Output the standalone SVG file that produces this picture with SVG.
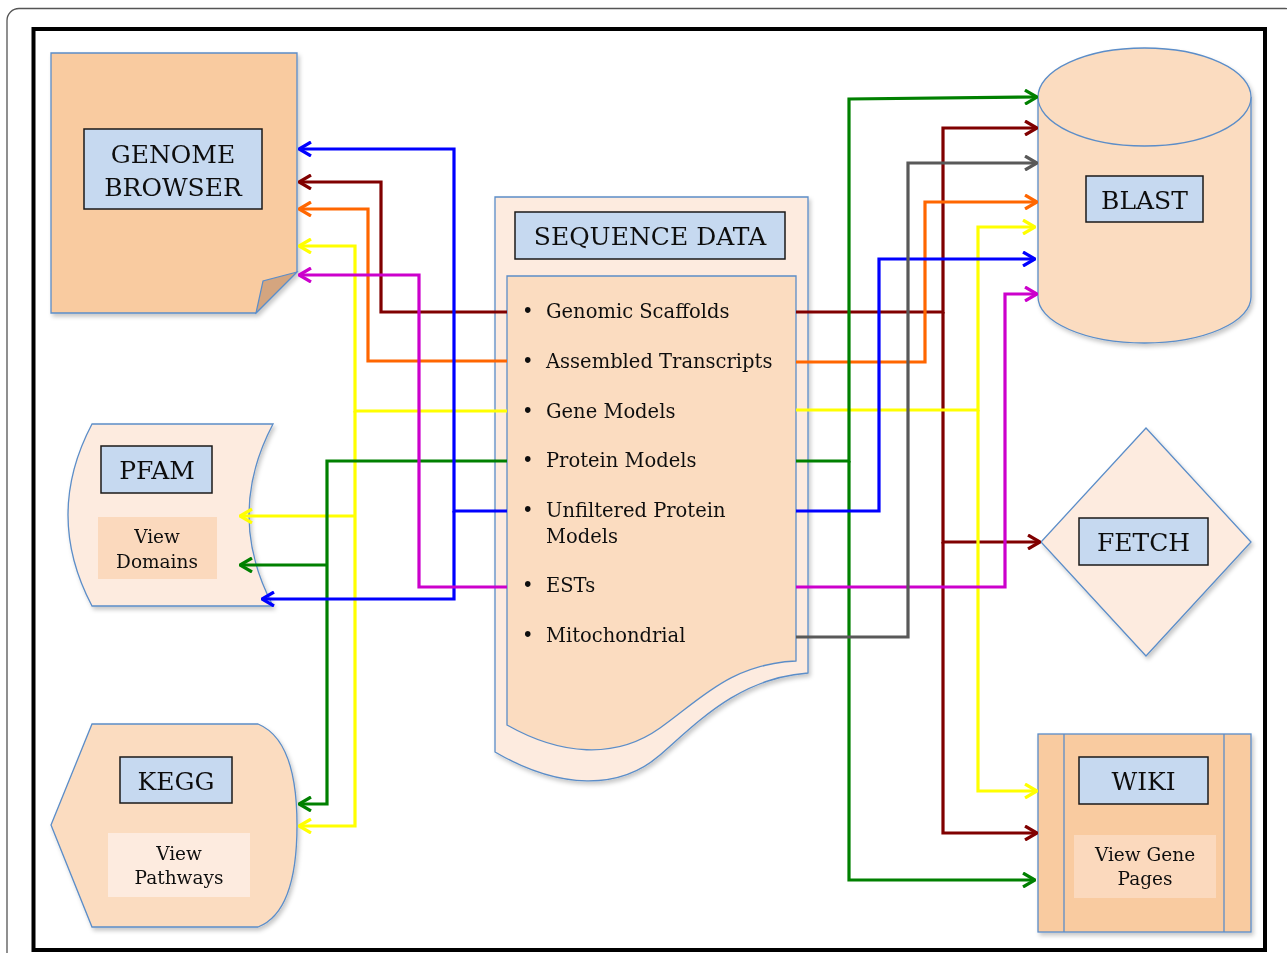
<svg xmlns="http://www.w3.org/2000/svg" width="1287" height="953" viewBox="0 0 1287 953">
<style>
.node{stroke:#5b8dc8;stroke-width:1.3}
.lbl{fill:#c6d9f0;stroke:#1a1a1a;stroke-width:1.5}
.t{font-family:"DejaVu Serif","Liberation Serif",serif;fill:#111;text-anchor:middle}
.big{font-size:25px}
.sm{font-size:18.5px}
.item{font-family:"DejaVu Serif","Liberation Serif",serif;font-size:19.5px;fill:#111}
.c{fill:none;stroke-width:3.2;stroke-linejoin:miter}
</style>
<defs>
<filter id="sh" x="-10%" y="-10%" width="125%" height="125%">
<feDropShadow dx="2" dy="3" stdDeviation="2" flood-color="#000" flood-opacity="0.22"/>
</filter>
<marker id="aR" viewBox="0 0 14 16" refX="13" refY="8" markerWidth="14" markerHeight="16" markerUnits="userSpaceOnUse" orient="auto"><path d="M1,1 L13,8 L1,15" fill="none" stroke="#800000" stroke-width="3.2"/></marker>
<marker id="aO" viewBox="0 0 14 16" refX="13" refY="8" markerWidth="14" markerHeight="16" markerUnits="userSpaceOnUse" orient="auto"><path d="M1,1 L13,8 L1,15" fill="none" stroke="#ff6600" stroke-width="3.2"/></marker>
<marker id="aY" viewBox="0 0 14 16" refX="13" refY="8" markerWidth="14" markerHeight="16" markerUnits="userSpaceOnUse" orient="auto"><path d="M1,1 L13,8 L1,15" fill="none" stroke="#ffff00" stroke-width="3.2"/></marker>
<marker id="aG" viewBox="0 0 14 16" refX="13" refY="8" markerWidth="14" markerHeight="16" markerUnits="userSpaceOnUse" orient="auto"><path d="M1,1 L13,8 L1,15" fill="none" stroke="#008000" stroke-width="3.2"/></marker>
<marker id="aB" viewBox="0 0 14 16" refX="13" refY="8" markerWidth="14" markerHeight="16" markerUnits="userSpaceOnUse" orient="auto"><path d="M1,1 L13,8 L1,15" fill="none" stroke="#0000ff" stroke-width="3.2"/></marker>
<marker id="aM" viewBox="0 0 14 16" refX="13" refY="8" markerWidth="14" markerHeight="16" markerUnits="userSpaceOnUse" orient="auto"><path d="M1,1 L13,8 L1,15" fill="none" stroke="#cc00cc" stroke-width="3.2"/></marker>
<marker id="aK" viewBox="0 0 14 16" refX="13" refY="8" markerWidth="14" markerHeight="16" markerUnits="userSpaceOnUse" orient="auto"><path d="M1,1 L13,8 L1,15" fill="none" stroke="#595959" stroke-width="3.2"/></marker>
</defs>
<rect x="0" y="0" width="1287" height="953" fill="#fff"/>
<rect x="7" y="8.5" width="1290" height="980" rx="12" fill="none" stroke="#555" stroke-width="1.3"/>
<rect x="33.5" y="29" width="1231.5" height="921" fill="#fff" stroke="#000" stroke-width="4"/>

<g id="genome-browser" filter="url(#sh)">
<path class="node" d="M51,53 H297 V272 L256,313 H51 Z" fill="#f9cba0"/>
<path d="M297,272 L263,281 L256,313 Z" fill="#d4a57f" stroke="#5b8dc8" stroke-width="1.2"/>
<rect class="lbl" x="84" y="129" width="178" height="80"/>
<text class="t big" x="173" y="163">GENOME</text>
<text class="t big" x="173" y="196">BROWSER</text>
</g>

<g id="pfam" filter="url(#sh)">
<path class="node" d="M92,424 H273 Q225,515 273,606 H92 Q44,515 92,424 Z" fill="#fdebdf"/>
<rect class="lbl" x="101" y="446" width="111" height="47"/>
<text class="t big" x="157" y="479">PFAM</text>
<rect x="98" y="517" width="119" height="62" fill="#fbd9bd"/>
<text class="t sm" x="157" y="543">View</text>
<text class="t sm" x="157" y="568">Domains</text>
</g>

<g id="kegg" filter="url(#sh)">
<path class="node" d="M92,724 H258 Q297,740 297,825 Q297,912 258,927 H92 L51,825 Z" fill="#fbdcc0"/>
<rect class="lbl" x="120" y="757" width="112" height="46"/>
<text class="t big" x="176" y="790">KEGG</text>
<rect x="108" y="833" width="142" height="64" fill="#fdebdf"/>
<text class="t sm" x="179" y="860">View</text>
<text class="t sm" x="179" y="884">Pathways</text>
</g>

<g id="sequence-data" filter="url(#sh)">
<path class="node" d="M495,197 H808 V673 C740,678 700,720 660,755 C620,790 560,790 495,752 Z" fill="#fdebdf"/>
<rect class="lbl" x="515" y="212" width="270" height="47"/>
<text class="t big" x="650" y="245">SEQUENCE DATA</text>
<path class="node" d="M507,276 H796 V661 C730,664 700,700 660,728 C615,760 560,755 507,725 Z" fill="#fbdcc0"/>
<g class="item">
<text x="522" y="318">•</text><text x="546" y="318">Genomic Scaffolds</text>
<text x="522" y="368">•</text><text x="546" y="368">Assembled Transcripts</text>
<text x="522" y="418">•</text><text x="546" y="418">Gene Models</text>
<text x="522" y="467">•</text><text x="546" y="467">Protein Models</text>
<text x="522" y="517">•</text><text x="546" y="517">Unfiltered Protein</text>
<text x="546" y="543">Models</text>
<text x="522" y="592">•</text><text x="546" y="592">ESTs</text>
<text x="522" y="642">•</text><text x="546" y="642">Mitochondrial</text>
</g>
</g>

<g id="blast" filter="url(#sh)">
<path class="node" d="M1038,97 V297 A106.5,46 0 0 0 1251,297 V97" fill="#fbdcc0"/>
<ellipse class="node" cx="1144.5" cy="97" rx="106.5" ry="49" fill="#fbdcc0"/>
<rect class="lbl" x="1086" y="176" width="117" height="46"/>
<text class="t big" x="1144.5" y="209">BLAST</text>
</g>

<g id="fetch" filter="url(#sh)">
<path class="node" d="M1146,428 L1251,542 L1146,656 L1041,542 Z" fill="#fdebdf"/>
<rect class="lbl" x="1079" y="518" width="129" height="47"/>
<text class="t big" x="1143.5" y="551">FETCH</text>
</g>

<g id="wiki" filter="url(#sh)">
<rect class="node" x="1038" y="734" width="213" height="198" fill="#f9cba0"/>
<line x1="1064" y1="734" x2="1064" y2="932" stroke="#5b8dc8" stroke-width="1.3"/>
<line x1="1224" y1="734" x2="1224" y2="932" stroke="#5b8dc8" stroke-width="1.3"/>
<rect class="lbl" x="1079" y="757" width="129" height="47"/>
<text class="t big" x="1143.5" y="790">WIKI</text>
<rect x="1074" y="835" width="142" height="63" fill="#fbd9bd"/>
<text class="t sm" x="1145" y="861">View Gene</text>
<text class="t sm" x="1145" y="885">Pages</text>
</g>

<g id="connectors">
<path class="c" stroke="#800000" d="M507,312 H381 V182 H299" marker-end="url(#aR)"/>
<path class="c" stroke="#ff6600" d="M507,361 H368 V209 H299" marker-end="url(#aO)"/>
<path class="c" stroke="#ffff00" d="M507,411 H355 V246 H299" marker-end="url(#aY)"/>
<path class="c" stroke="#ffff00" d="M355,411 V826 H299" marker-end="url(#aY)"/>
<path class="c" stroke="#ffff00" d="M355,516 H240" marker-end="url(#aY)"/>
<path class="c" stroke="#008000" d="M507,461 H327 V804 H299" marker-end="url(#aG)"/>
<path class="c" stroke="#008000" d="M327,565 H240" marker-end="url(#aG)"/>
<path class="c" stroke="#0000ff" d="M507,511 H454 V149 H299" marker-end="url(#aB)"/>
<path class="c" stroke="#0000ff" d="M454,511 V599 H262" marker-end="url(#aB)"/>
<path class="c" stroke="#cc00cc" d="M507,587 H419 V275 H299" marker-end="url(#aM)"/>
<path class="c" stroke="#800000" d="M796,312 H943 V128 H1037" marker-end="url(#aR)"/>
<path class="c" stroke="#800000" d="M943,312 V542 H1040" marker-end="url(#aR)"/>
<path class="c" stroke="#800000" d="M943,542 V833 H1037" marker-end="url(#aR)"/>
<path class="c" stroke="#ff6600" d="M796,362 H925 V202 H1037" marker-end="url(#aO)"/>
<path class="c" stroke="#ffff00" d="M796,410 H978 V227 H1035" marker-end="url(#aY)"/>
<path class="c" stroke="#ffff00" d="M978,410 V791 H1037" marker-end="url(#aY)"/>
<path class="c" stroke="#008000" d="M796,461 H849 V99 L1037,97" marker-end="url(#aG)"/>
<path class="c" stroke="#008000" d="M849,461 V880 H1035" marker-end="url(#aG)"/>
<path class="c" stroke="#0000ff" d="M796,511 H879 V259 H1035" marker-end="url(#aB)"/>
<path class="c" stroke="#cc00cc" d="M796,587 H1005 V294 H1037" marker-end="url(#aM)"/>
<path class="c" stroke="#595959" d="M796,637 H908 V163 H1037" marker-end="url(#aK)"/>
</g>
</svg>
